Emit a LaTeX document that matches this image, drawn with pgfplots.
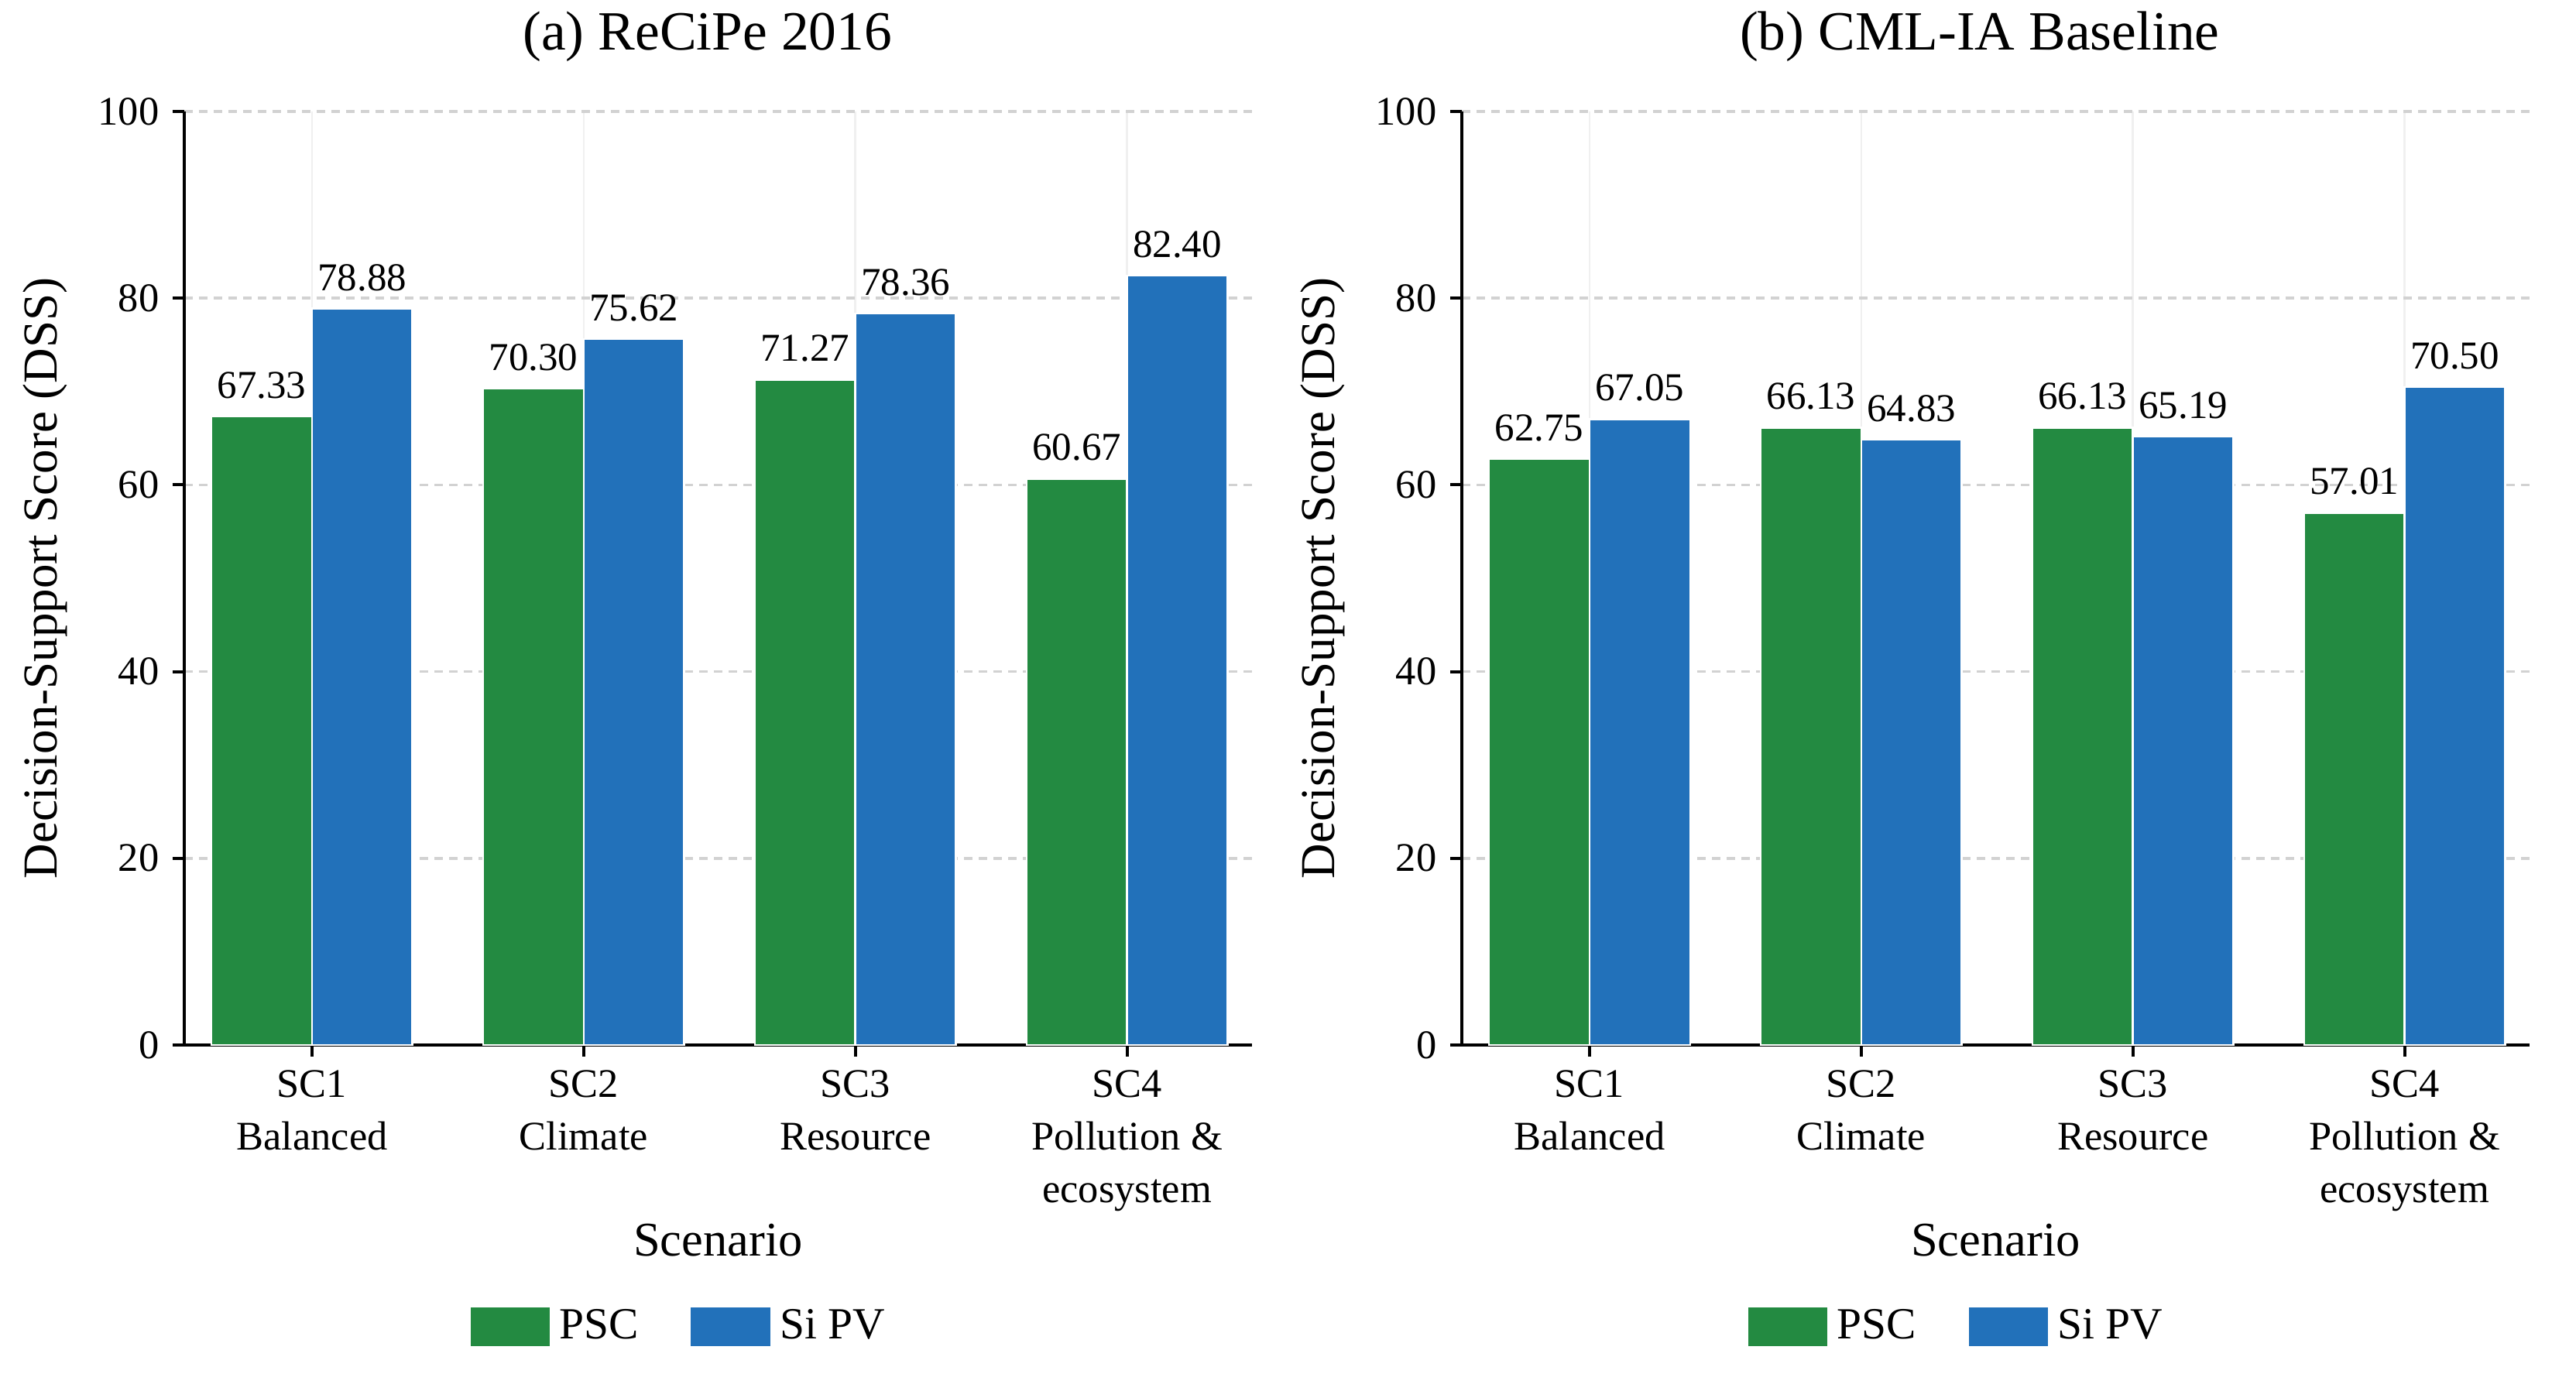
\documentclass[border=0pt]{standalone}
\usepackage{fontspec}
\setmainfont{Liberation Serif}
\usepackage{pgfplots}
\pgfplotsset{compat=1.18}

\definecolor{pscgreen}{RGB}{35,138,65}
\definecolor{sipvblue}{RGB}{34,113,186}

\tikzset{paneltitle/.style={font=\fontsize{14.3}{16}\selectfont, anchor=center, inner sep=0pt}}

\pgfplotsset{
  patchlegend/.style={legend image code/.code={\fill[##1] (0pt,-5.2pt) rectangle (21pt,5.2pt);}},
  dsspanel/.style={
    scale only axis, width=275.8pt, height=241.2pt,
    ymin=0, ymax=100, ytick={0,20,...,100},
    xmin=-0.47, xmax=3.46,
    xtick={0,1,2,3},
    xticklabels={{SC1\\Balanced},{SC2\\Climate},{SC3\\Resource},{SC4\\Pollution \&\\ecosystem}},
    xticklabel style={align=center, font=\fontsize{10.5}{13.6}\selectfont},
    yticklabel style={font=\fontsize{10.5}{12}\selectfont},
    /pgf/number format/assume math mode=true,
    axis x line*=bottom, axis y line*=left,
    axis line style={black, line width=0.8pt, -},
    tick align=outside, major tick length=3pt,
    tick style={black, line width=0.8pt},
    ymajorgrids, xmajorgrids,
    y grid style={gray!35, dash pattern=on 2.2pt off 1.6pt, line width=0.7pt},
    x grid style={gray!12, line width=0.5pt},
    ybar=0pt, bar width=0.37,
    clip=false,
    nodes near coords={\pgfmathprintnumber[fixed,fixed zerofill,precision=2]{\pgfplotspointmeta}},
    every node near coord/.append style={font=\fontsize{10.2}{12}\selectfont, black, yshift=1pt},
    xlabel={Scenario},
    ylabel={Decision-Support Score (DSS)},
    xlabel style={at={(axis description cs:0.5,-0.209)}, anchor=center, font=\fontsize{12.5}{14}\selectfont},
    ylabel style={at={(axis description cs:-0.1305,0.5)}, anchor=center, font=\fontsize{12.6}{14}\selectfont},
    legend columns=2,
    legend style={draw=none, fill=none, at={(axis description cs:0.465,-0.302)}, anchor=center,
      font=\fontsize{11.5}{13}\selectfont,
      /tikz/every even column/.append style={column sep=11pt}},
  }
}

\begin{document}
\begin{tikzpicture}
\path[use as bounding box] (-47.6pt,-85pt) rectangle (617.8pt,270pt);

% (a) ReCiPe 2016
\begin{axis}[dsspanel]
\addplot[fill=pscgreen, draw=white, line width=0.5pt, patchlegend]
  coordinates {(0,67.33) (1,70.30) (2,71.27) (3,60.67)};
\addplot[fill=sipvblue, draw=white, line width=0.5pt, patchlegend]
  coordinates {(0,78.88) (1,75.62) (2,78.36) (3,82.40)};
\legend{PSC, Si PV}
\node[paneltitle] at (axis description cs:0.49,1.080) {(a) ReCiPe 2016};
\end{axis}

% (b) CML-IA Baseline
\begin{axis}[dsspanel, at={(330pt,0pt)}, anchor=south west]
\addplot[fill=pscgreen, draw=white, line width=0.5pt, patchlegend]
  coordinates {(0,62.75) (1,66.13) (2,66.13) (3,57.01)};
\addplot[fill=sipvblue, draw=white, line width=0.5pt, patchlegend]
  coordinates {(0,67.05) (1,64.83) (2,65.19) (3,70.50)};
\legend{PSC, Si PV}
\node[paneltitle] at (axis description cs:0.485,1.080) {(b) CML-IA Baseline};
\end{axis}
\end{tikzpicture}
\end{document}
